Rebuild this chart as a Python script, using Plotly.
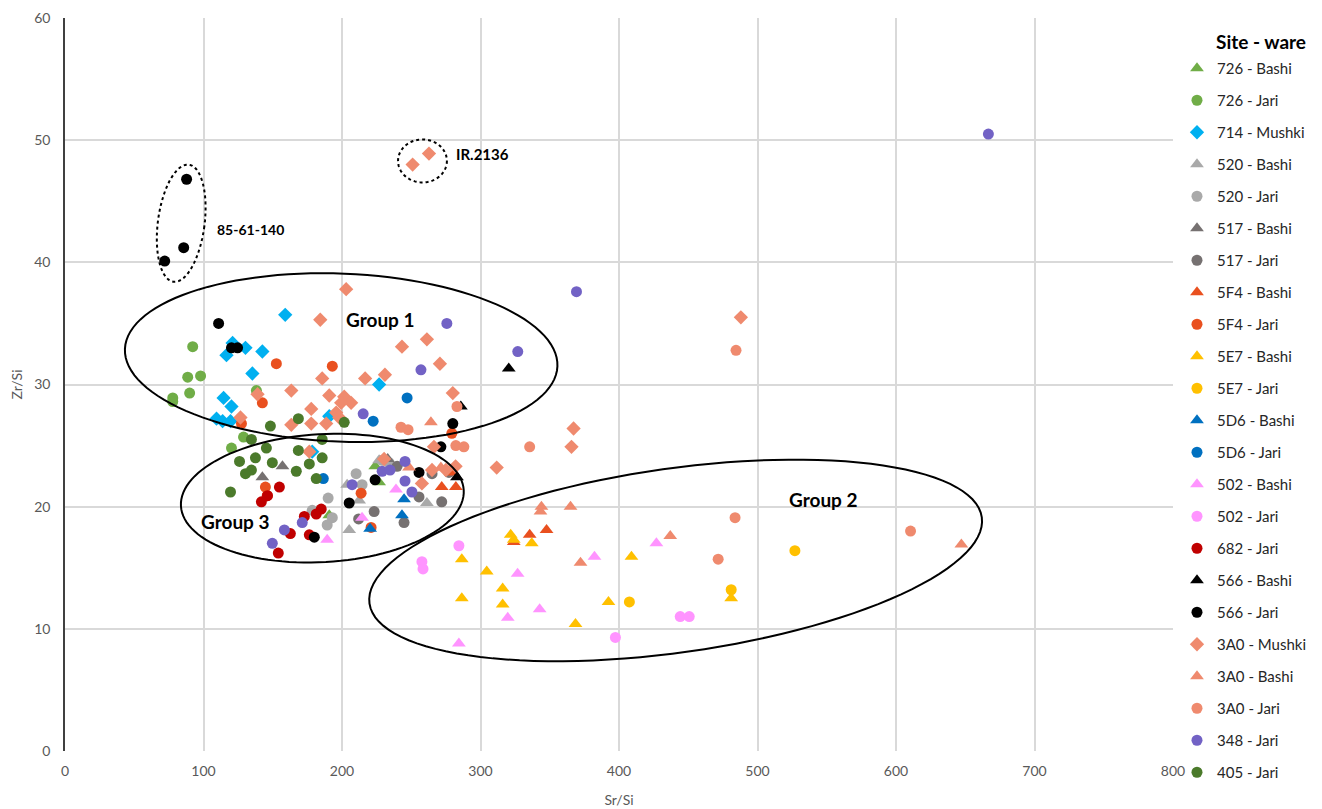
import numpy as np
import plotly.graph_objects as go

# ---------------- data (Sr/Si, Zr/Si) ----------------
s726_bashi_x = [190.8, 224.0, 226.8]
s726_bashi_y = [19.3, 23.3, 22.0]
s726_jari_x = [92.2, 88.6, 97.9, 90.0, 77.8, 77.8, 120.2, 138.2, 128.9]
s726_jari_y = [33.1, 30.6, 30.7, 29.3, 28.9, 28.6, 24.8, 29.5, 25.7]
s714_mushki_x = [159.0, 121.0, 130.3, 116.6, 142.5, 135.3, 114.5, 120.2, 109.4, 113.8, 119.5, 190.8, 178.5, 226.8]
s714_mushki_y = [35.7, 33.4, 33.0, 32.4, 32.7, 30.9, 28.9, 28.2, 27.2, 27.0, 27.0, 27.4, 24.5, 30.0]
s520_bashi_x = [203.7, 212.4, 205.2, 261.3, 226.8]
s520_bashi_y = [21.8, 20.5, 18.1, 20.3, 23.8]
s520_jari_x = [210.2, 190.0, 214.5, 193.0, 189.3, 178.5, 229.0, 234.0]
s520_jari_y = [22.7, 20.7, 21.8, 19.1, 18.5, 19.7, 23.8, 23.6]
s517_bashi_x = [157.0, 142.5, 233.0]
s517_bashi_y = [23.3, 22.4, 23.9]
s517_jari_x = [239.8, 255.6, 272.0, 244.8, 223.2, 212.0, 265.0, 277.2]
s517_jari_y = [23.3, 20.8, 20.4, 18.7, 19.6, 19.0, 22.7, 22.8]
s5f4_bashi_x = [272.0, 282.2, 280.0, 324.0, 335.5, 347.7]
s5f4_bashi_y = [21.6, 21.6, 22.8, 17.1, 17.7, 18.1]
s5f4_jari_x = [152.6, 193.0, 142.5, 127.4, 144.7, 146.0, 213.8, 221.0, 279.3]
s5f4_jari_y = [31.7, 31.5, 28.5, 26.8, 21.6, 20.9, 21.1, 18.3, 26.0]
s5e7_bashi_x = [321.8, 324.0, 337.0, 286.5, 304.5, 316.0, 286.5, 316.0, 368.6, 392.4, 409.0, 481.0]
s5e7_bashi_y = [17.7, 17.3, 17.0, 15.7, 14.7, 13.3, 12.5, 12.0, 10.4, 12.2, 15.9, 12.5]
s5e7_jari_x = [407.5, 481.0, 527.0]
s5e7_jari_y = [12.2, 13.2, 16.4]
s5d6_bashi_x = [244.8, 243.3, 220.3]
s5d6_bashi_y = [20.6, 19.3, 18.2]
s5d6_jari_x = [222.5, 186.5, 247.0]
s5d6_jari_y = [27.0, 22.3, 28.9]
s502_bashi_x = [239.0, 214.5, 189.3, 326.8, 342.7, 319.7, 284.4, 382.3, 427.0]
s502_bashi_y = [21.4, 19.1, 17.3, 14.5, 11.6, 10.9, 8.8, 15.9, 17.0]
s502_jari_x = [284.4, 257.7, 258.5, 397.4, 444.2, 450.7]
s502_jari_y = [16.8, 15.5, 14.9, 9.3, 11.0, 11.0]
s682_jari_x = [154.8, 146.2, 141.8, 162.7, 185.0, 181.4, 172.8, 176.4, 154.0]
s682_jari_y = [21.6, 20.9, 20.4, 17.8, 19.8, 19.4, 19.2, 17.7, 16.2]
s566_bashi_x = [320.4, 285.8, 283.0]
s566_bashi_y = [31.3, 28.2, 22.4]
s566_jari_x = [87.8, 85.7, 72.0, 110.9, 120.2, 124.6, 280.0, 271.4, 223.9, 205.2, 180.0, 255.6]
s566_jari_y = [46.8, 41.2, 40.1, 35.0, 33.0, 33.0, 26.8, 24.9, 22.2, 20.3, 17.5, 22.8]
s3a0_mushki_x = [251.0, 262.8, 203.0, 488.0, 184.3, 243.3, 261.3, 270.7, 231.0, 216.7, 185.7, 163.4,
                 190.8, 201.6, 206.6, 199.4, 177.8, 195.8, 280.0, 163.4, 177.8, 188.6, 198.0, 266.4,
                 176.4, 230.4, 257.7, 311.7, 265.0, 275.0, 126.7, 139.0, 367.2, 365.7, 282.0]
s3a0_mushki_y = [48.0, 48.9, 37.8, 35.5, 35.3, 33.1, 33.7, 31.7, 30.8, 30.5, 30.5, 29.5,
                 29.1, 29.0, 28.5, 28.5, 28.0, 27.7, 29.3, 26.7, 26.8, 26.8, 27.3, 24.9,
                 24.5, 23.9, 21.9, 23.2, 23.0, 23.0, 27.3, 29.2, 26.4, 24.9, 23.3]
s3a0_bashi_x = [264.2, 248.4, 344.0, 343.3, 365.0, 372.2, 437.0, 647.2, 271.4]
s3a0_bashi_y = [26.9, 23.2, 20.0, 19.6, 20.0, 15.4, 17.6, 16.9, 23.2]
s3a0_jari_x = [484.5, 483.8, 610.5, 471.6, 335.5, 242.6, 247.7, 283.0, 282.2, 288.0]
s3a0_jari_y = [32.8, 19.1, 18.0, 15.7, 24.9, 26.5, 26.3, 28.2, 25.0, 24.9]
s348_jari_x = [666.7, 369.3, 275.7, 326.9, 257.0, 215.3, 245.5, 229.0, 234.7, 245.5, 207.3, 250.5,
               171.3, 158.4, 149.7]
s348_jari_y = [50.5, 37.6, 35.0, 32.7, 31.2, 27.6, 23.7, 22.9, 23.0, 22.1, 21.8, 21.2,
               18.7, 18.1, 17.0]
s405_jari_x = [168.5, 148.3, 201.6, 134.6, 145.4, 137.5, 126.0, 149.7, 134.6, 130.3, 119.5,
               185.7, 168.5, 185.7, 176.4, 167.0, 181.4]
s405_jari_y = [27.2, 26.6, 26.9, 25.5, 24.8, 24.0, 23.7, 23.6, 23.0, 22.7, 21.2,
               25.5, 24.6, 24.0, 23.5, 22.9, 22.3]

series_names = ["726 - Bashi", "726 - Jari", "714 - Mushki", "520 - Bashi", "520 - Jari",
                "517 - Bashi", "517 - Jari", "5F4 - Bashi", "5F4 - Jari", "5E7 - Bashi",
                "5E7 - Jari", "5D6 - Bashi", "5D6 - Jari", "502 - Bashi", "502 - Jari",
                "682 - Jari", "566 - Bashi", "566 - Jari", "3A0 - Mushki", "3A0 - Bashi",
                "3A0 - Jari", "348 - Jari", "405 - Jari"]
series_x = [s726_bashi_x, s726_jari_x, s714_mushki_x, s520_bashi_x, s520_jari_x, s517_bashi_x,
            s517_jari_x, s5f4_bashi_x, s5f4_jari_x, s5e7_bashi_x, s5e7_jari_x, s5d6_bashi_x,
            s5d6_jari_x, s502_bashi_x, s502_jari_x, s682_jari_x, s566_bashi_x, s566_jari_x,
            s3a0_mushki_x, s3a0_bashi_x, s3a0_jari_x, s348_jari_x, s405_jari_x]
series_y = [s726_bashi_y, s726_jari_y, s714_mushki_y, s520_bashi_y, s520_jari_y, s517_bashi_y,
            s517_jari_y, s5f4_bashi_y, s5f4_jari_y, s5e7_bashi_y, s5e7_jari_y, s5d6_bashi_y,
            s5d6_jari_y, s502_bashi_y, s502_jari_y, s682_jari_y, s566_bashi_y, s566_jari_y,
            s3a0_mushki_y, s3a0_bashi_y, s3a0_jari_y, s348_jari_y, s405_jari_y]

x_ticks = [0, 100, 200, 300, 400, 500, 600, 700, 800]
y_ticks = [0, 10, 20, 30, 40, 50, 60]
legend_title = "Site - ware"

# ---------------- styles ----------------
site_colors = {"726": "#70AD47", "714": "#00B0F0", "520": "#A9A9A9", "517": "#767171",
               "5F4": "#E9501F", "5E7": "#FFC000", "5D6": "#0070C0", "502": "#FF94FF",
               "682": "#C00000", "566": "#000000", "3A0": "#EF8A6E", "348": "#7262C5",
               "405": "#4B7A2B"}
ware_symbols = {"Bashi": ("triangle-up", 12), "Jari": ("circle", 11), "Mushki": ("diamond", 11)}

FONT = "Lato"
# page body has an 8px default margin: the figure is sized so that it fits the window
OFF = 8
W, H = 1322 - OFF, 809 - OFF
ML, MT = 65 - OFF, 18 - OFF
PW, PH = 1111, 733
MR, MB = W - ML - PW, H - MT - PH
XR = (0, 800)
YR = (0, 60)
pxx = PW / (XR[1] - XR[0])
pxy = PH / (YR[1] - YR[0])


def paper_x(win_px):
    return (win_px - OFF - ML) / PW


def paper_y(win_px):
    return (MT + PH - (win_px - OFF)) / PH


fig = go.Figure()
for name, xs, ys in zip(series_names, series_x, series_y):
    site, ware = [p.strip() for p in name.split("-")]
    sym, sz = ware_symbols[ware]
    fig.add_trace(go.Scatter(
        x=xs, y=ys, mode="markers", name=name, legendgroup=name,
        marker=dict(symbol=sym, size=sz, color=site_colors[site], line=dict(width=0)),
    ))


def ellipse_path(cx, cy, a_px, b_px, theta_deg):
    """cx, cy in data units; a, b in pixels; theta clockwise on screen."""
    t = np.linspace(0, 2 * np.pi, 121)
    th = np.radians(theta_deg)
    dx = a_px * np.cos(t) * np.cos(th) - b_px * np.sin(t) * np.sin(th)
    dy = a_px * np.cos(t) * np.sin(th) + b_px * np.sin(t) * np.cos(th)
    xs = cx + dx / pxx
    ys = cy - dy / pxy
    return "M " + " L ".join(f"{x:.3f},{y:.3f}" for x, y in zip(xs, ys)) + " Z"


ellipses = [
    # cx, cy (data), a, b (px), theta, dash
    (199.4, 32.2, 217, 84, 2.3, "solid"),     # Group 1
    (185.8, 20.7, 142, 64, -3.2, "solid"),    # Group 3
    (440.9, 15.6, 310, 92, -8.0, "solid"),    # Group 2
    (83.9, 43.2, 23.4, 59, 7.5, "dot"),       # 85-61-140
    (258.1, 48.3, 24.5, 21.5, 0, "dot"),      # IR.2136
]
for cx, cy, a, b, th, dash in ellipses:
    fig.add_shape(type="path", path=ellipse_path(cx, cy, a, b, th), xref="x", yref="y",
                  line=dict(color="black", width=2, dash=dash), layer="above")

labels = [
    ("Group 1", 227.5, 35.3, 19),
    ("Group 3", 123.1, 18.8, 19),
    ("Group 2", 547.9, 20.6, 19),
    ("85-61-140", 133.9, 42.7, 14),
    ("IR.2136", 301.7, 48.9, 15),
]
for txt, x, y, fs in labels:
    fig.add_annotation(x=x, y=y, xref="x", yref="y", text=f"<b>{txt}</b>", showarrow=False,
                       xanchor="center", yanchor="middle",
                       font=dict(family=FONT, size=fs, color="black"))

# legend title as a positioned annotation (centered over legend text column)
fig.add_annotation(x=paper_x(1264), y=paper_y(42), xref="paper", yref="paper",
                   xanchor="center", yanchor="middle",
                   text=f"<b>{legend_title}</b>", showarrow=False,
                   font=dict(family=FONT, size=19, color="black"))

fig.update_layout(
    width=W, height=H,
    margin=dict(l=ML, r=MR, t=MT, b=MB),
    paper_bgcolor="white", plot_bgcolor="white",
    font=dict(family=FONT, color="#595959"),
    showlegend=True,
    legend=dict(
        x=paper_x(1180), xanchor="left", y=paper_y(52), yanchor="top",
        font=dict(family=FONT, size=15, color="#262626"),
        tracegroupgap=9.5, itemwidth=30, maxheight=800,
        bgcolor="rgba(0,0,0,0)",
    ),
    xaxis=dict(range=XR, tickvals=x_ticks, showgrid=True, gridcolor="#D9D9D9", gridwidth=1.5,
               zeroline=False, showline=False, ticks="", automargin=False,
               ticklabelstandoff=10,
               tickfont=dict(family=FONT, size=14, color="#595959"),
               title=dict(text="Sr/Si", font=dict(family=FONT, size=14, color="#595959"), standoff=17)),
    yaxis=dict(range=YR, tickvals=y_ticks, showgrid=True, gridcolor="#D9D9D9", gridwidth=1.5,
               zeroline=False, showline=True, linecolor="#404040", linewidth=1.5, ticks="",
               ticklabelstandoff=10, automargin=False,
               tickfont=dict(family=FONT, size=14, color="#595959"),
               title=dict(text="Zr/Si", font=dict(family=FONT, size=14, color="#595959"), standoff=12)),
)

fig.write_html("out.html")
